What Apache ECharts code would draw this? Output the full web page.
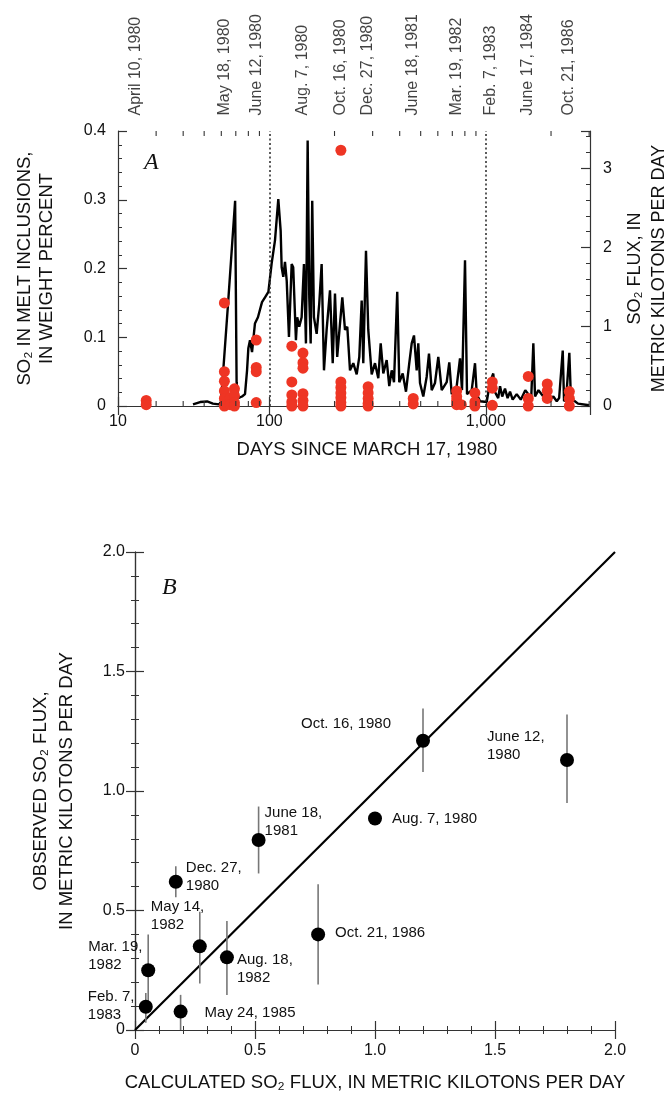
<!DOCTYPE html>
<html><head><meta charset="utf-8">
<script src="https://cdn.jsdelivr.net/npm/echarts@6/dist/echarts.min.js"></script>
<style>html,body{margin:0;padding:0;background:#fff}#c{width:667px;height:1105px}</style>
</head><body><div id="c"></div>
<script>
// ---------- Panel A data ----------
const dateLabels = ['April 10, 1980','May 18, 1980','June 12, 1980','Aug. 7, 1980','Oct. 16, 1980','Dec. 27, 1980','June 18, 1981','Mar. 19, 1982','Feb. 7, 1983','June 17, 1984','Oct. 21, 1986'];
const dateDays = [24, 62, 87, 143, 213, 285, 458, 732, 1057, 1553, 2409];
const xTickLabelsA = ['10', '100', '1,000'];
const minorDaysA = [30,40,50,60,70,80,90,200,300,400,500,600,700,800,900,2000,3000];
const guideDays = [100, 1000];

const fluxDays = [44.4,47.9,51.6,54.9,58.5,59.8,64.5,69.5,70.6,71.8,
74.8,77.2,78.9,80.0,81.4,83.2,85.8,88.6,92.5,95.5,
99.0,102.5,106.2,110.0,112.8,114.0,116.0,118.1,120.3,123.2,
126.8,128.9,132.7,134.5,137.4,141.0,144.5,147.6,150.3,152.9,
155.2,157.8,160.7,165.4,170.0,174.4,178.8,183.9,190.6,196.2,
201.0,205.8,212.0,217.3,223.6,229.1,235.8,244.2,253.2,260.3,
267.0,271.6,279.5,286.4,297.0,307.6,318.6,326.8,336.0,348.3,
358.0,367.4,376.5,389.7,398.2,413.0,427.7,442.9,454.5,465.7,
479.2,487.5,496.4,514.1,533.0,546.2,562.2,582.2,603.1,625.3,
659.4,677.8,695.5,733.4,759.7,776.0,801.2,818.4,860.5,891.1,
907.4,939.8,1009,1045,1082,1100,1122,1140,1163,1190,
1226,1260,1293,1330,1388,1450,1521,1571,1620,1657,
1687,1750,1843,1900,1979,2050,2125,2180,2265,2297,
2350,2430,2474,2550,2665,3000];
const fluxKt = [0.02,0.05,0.057,0.03,0.02,0.05,1.3,2.59,0.3,0.1,
0.12,0.15,0.45,0.73,0.83,0.68,1.04,1.12,1.31,1.37,
1.44,1.8,2.09,2.61,2.21,1.75,1.63,1.82,1.58,0.87,
1.79,1.75,0.83,1.12,1.0,1.12,1.79,0.79,3.35,1.37,
0.79,2.59,1.12,0.91,1.29,1.79,0.45,0.96,1.46,0.54,
1.42,0.62,1.04,1.37,0.96,1.0,0.45,0.54,0.40,0.62,
1.33,0.54,1.96,0.96,0.40,0.54,0.35,0.79,0.41,0.58,
0.25,0.45,0.3,1.44,0.3,0.41,0.18,0.54,0.79,0.89,
0.45,0.79,0.29,0.12,0.37,0.66,0.2,0.29,0.62,0.2,
0.3,0.55,0.15,0.25,0.6,0.2,1.84,0.15,0.2,0.54,
0.15,0.06,0.05,0.3,0.41,0.18,0.2,0.1,0.25,0.12,
0.22,0.1,0.18,0.08,0.15,0.08,0.2,0.15,0.1,0.79,
0.12,0.2,0.12,0.16,0.08,0.12,0.06,0.1,0.70,0.06,
0.1,0.67,0.05,0.07,0.03,0.01];

const inclusionDays = [27, 62, 66, 69, 87, 127, 143, 214, 286, 462, 733, 770, 890, 1071, 1570, 1921, 2430];
const inclusionWt = [
  [0.008,0.002],
  [0.15,0.05,0.036,0.022,0.011,0.0],
  [0.012,0.002],
  [0.025,0.015,0.005,0.0],
  [0.096,0.056,0.05,0.005],
  [0.087,0.035,0.016,0.006,0.0],
  [0.077,0.063,0.055,0.018,0.008,0.0],
  [0.372,0.035,0.027,0.019,0.012,0.005,0.0],
  [0.028,0.019,0.011,0.004,0.0],
  [0.011,0.003],
  [0.022,0.014,0.008,0.002],
  [0.002],
  [0.019,0.006,0.0],
  [0.035,0.026,0.001],
  [0.043,0.011,0.0],
  [0.032,0.022,0.011],
  [0.021,0.011,0.0]
];

// ---------- Panel B data ----------
const eventLabels = ['June 12,\n1980','Oct. 16, 1980','Aug. 7, 1980','June 18,\n1981','Dec. 27,\n1980','May 14,\n1982','Mar. 19,\n1982','Feb. 7,\n1983','Aug. 18,\n1982','Oct. 21, 1986','May 24, 1985'];
const calcFlux = [1.80, 1.20, 1.00, 0.515, 0.17, 0.27, 0.055, 0.045, 0.383, 0.763, 0.19];
const obsFlux  = [1.13, 1.21, 0.885, 0.795, 0.62, 0.35, 0.25, 0.097, 0.304, 0.40, 0.077];
const obsLow   = [0.95, 1.08, null, 0.655, 0.555, 0.195, 0.12, 0.03, 0.146, 0.19, 0.0];
const obsHigh  = [1.32, 1.345, null, 0.935, 0.685, 0.495, 0.40, 0.155, 0.456, 0.61, 0.147];
const oneToOne = [[0, 0], [2, 2]];
// label offsets (style) relative to each point: [dx, dy]
const labelOffsets = [[-80,-14],[-122,-17],[17,0],[6,-18],[10,-5],[-49,-30],[-60,-14],[-58,-1],[10,12],[17,-2],[24,1]];

const FONT = 'Liberation Sans, Arial, sans-serif';
const AX = '#333';
const TXT = '#111';

const inclusionData = [];
inclusionDays.forEach((d, i) => inclusionWt[i].forEach(v => inclusionData.push([d, v])));
const fluxData = fluxDays.map((d, i) => [d, fluxKt[i]]);

const chart = echarts.init(document.getElementById('c'), null, {renderer: 'canvas'});

const axLine = {show: true, lineStyle: {color: AX, width: 1.2}};
const tickIn = (len) => ({show: true, inside: true, length: len, lineStyle: {color: AX, width: 1.2}});
const minorIn = {show: true, splitNumber: 5, length: 4, lineStyle: {color: AX, width: 1}};
const lab = {color: TXT, fontFamily: FONT, fontSize: 16};
const nameStyle = (lh, fs) => ({color: TXT, fontFamily: FONT, fontSize: fs || 18.5, lineHeight: lh});

const logLabel = (v) => {
  if (v < 50) return xTickLabelsA[0];
  if (Math.abs(v - 100) < 1) return xTickLabelsA[1];
  if (Math.abs(v - 1000) < 5) return xTickLabelsA[2];
  return '';
};
const fix1 = (v) => (Math.abs(v) < 1e-9 ? '0' : v.toFixed(1));

const option = {
  animation: false,
  backgroundColor: '#fff',
  grid: [
    {left: 118, top: 131, width: 472, height: 275, containLabel: false, outerBoundsMode: 'none'},
    {left: 135, top: 552, width: 480, height: 478, containLabel: false, outerBoundsMode: 'none'}
  ],
  xAxis: [
    {type: 'log', logBase: 10, gridIndex: 0, min: 20, max: 3027, position: 'bottom',
     axisLine: axLine, axisTick: tickIn(9), splitLine: {show: false},
     axisLabel: Object.assign({}, lab, {formatter: logLabel, margin: 8, showMinLabel: true, showMaxLabel: false}),
     name: 'DAYS SINCE MARCH 17, 1980', nameLocation: 'middle', nameGap: 33,
     nameTextStyle: Object.assign(nameStyle(22), {padding: [0, 0, 0, 26]})},
    {type: 'log', logBase: 10, gridIndex: 0, min: 20, max: 3027, position: 'top',
     axisLine: axLine, axisTick: tickIn(9), splitLine: {show: false}, axisLabel: {show: false}},
    {type: 'value', gridIndex: 1, min: 0, max: 2, interval: 0.5, position: 'bottom',
     axisLine: axLine, axisTick: tickIn(9), minorTick: minorIn, splitLine: {show: false},
     axisLabel: Object.assign({}, lab, {formatter: fix1, margin: 13}),
     name: 'CALCULATED SO₂ FLUX, IN METRIC KILOTONS PER DAY', nameLocation: 'middle', nameGap: 42,
     nameTextStyle: nameStyle(22)},
    {type: 'value', gridIndex: 1, min: 0, max: 2, interval: 0.5, position: 'top',
     axisLine: axLine, axisTick: tickIn(9), minorTick: minorIn, splitLine: {show: false}, axisLabel: {show: false}}
  ],
  yAxis: [
    {type: 'value', gridIndex: 0, min: 0, max: 0.4, interval: 0.1, position: 'left',
     axisLine: axLine, axisTick: tickIn(9), minorTick: minorIn, splitLine: {show: false},
     axisLabel: Object.assign({}, lab, {formatter: fix1, margin: 12}),
     name: 'SO₂ IN MELT INCLUSIONS,\nIN WEIGHT PERCENT', nameLocation: 'middle', nameRotate: 90, nameGap: 60,
     nameTextStyle: nameStyle(22)},
    {type: 'value', gridIndex: 0, min: 0, max: 3.47, interval: 1, position: 'right',
     axisLine: axLine, axisTick: tickIn(9), minorTick: minorIn, splitLine: {show: false},
     axisLabel: Object.assign({}, lab, {formatter: (v) => (Math.abs(v - Math.round(v)) < 1e-6 ? String(Math.round(v)) : ''), margin: 13, showMaxLabel: false}),
     name: 'SO₂ FLUX, IN\nMETRIC KILOTONS PER DAY', nameLocation: 'middle', nameRotate: 90, nameGap: 24,
     nameTextStyle: nameStyle(24, 18)},
    {type: 'value', gridIndex: 1, min: 0, max: 2, interval: 0.5, position: 'left',
     axisLine: axLine, axisTick: tickIn(9), minorTick: minorIn, splitLine: {show: false},
     axisLabel: Object.assign({}, lab, {formatter: fix1, margin: 10}),
     name: 'OBSERVED SO₂ FLUX,\nIN METRIC KILOTONS PER DAY', nameLocation: 'middle', nameRotate: 90, nameGap: 55,
     nameTextStyle: nameStyle(26)},
    {type: 'value', gridIndex: 1, min: 0, max: 2, interval: 0.5, position: 'right',
     axisLine: axLine, axisTick: tickIn(9), minorTick: minorIn, splitLine: {show: false}, axisLabel: {show: false}}
  ],
  graphic: [
    {type: 'text', left: 144, top: 151, style: {text: 'A', font: 'italic 24px "Liberation Serif", serif', fill: '#111'}},
    {type: 'text', left: 162, top: 576, style: {text: 'B', font: 'italic 24px "Liberation Serif", serif', fill: '#111'}}
  ],
  series: [
    // SO2 flux line
    {type: 'line', xAxisIndex: 0, yAxisIndex: 1, data: fluxData, showSymbol: false, symbol: 'none',
     lineStyle: {color: '#000', width: 2.4, opacity: 1}, z: 3, clip: true,
     markLine: {silent: true, symbol: 'none', label: {show: false},
       lineStyle: {color: '#333', width: 1.6, type: [2, 2.5], opacity: 1},
       data: guideDays.map(d => ({xAxis: d}))}},
    // melt inclusions
    {type: 'scatter', xAxisIndex: 0, yAxisIndex: 0, data: inclusionData, symbolSize: 11,
     itemStyle: {color: '#ee3524', opacity: 1}, z: 5, clip: false},
    // log minor ticks (top and bottom)
    {type: 'custom', xAxisIndex: 0, yAxisIndex: 0, data: minorDaysA.map(d => [d, 0]), clip: false, silent: true, z: 6,
     renderItem: (params, api) => {
       const d = api.value(0);
       const b = api.coord([d, 0]);
       const t = api.coord([d, 0.4]);
       const st = {stroke: AX, lineWidth: 1.1};
       return {type: 'group', children: [
         {type: 'line', shape: {x1: b[0], y1: b[1], x2: b[0], y2: b[1] - 5}, style: st},
         {type: 'line', shape: {x1: t[0], y1: t[1], x2: t[0], y2: t[1] + 5}, style: st}
       ]};
     }},
    // date labels above panel A
    {type: 'scatter', xAxisIndex: 0, yAxisIndex: 0, data: dateDays.map(d => [d, 0.4]), symbolSize: 1,
     itemStyle: {color: 'rgba(0,0,0,0)'}, clip: false, silent: true,
     label: {show: true, position: 'top', distance: 15, rotate: 90, align: 'left', verticalAlign: 'middle',
       color: TXT, fontFamily: FONT, fontSize: 16,
       formatter: (p) => dateLabels[p.dataIndex]}},
    // 1:1 line
    {type: 'line', xAxisIndex: 2, yAxisIndex: 2, data: oneToOne, showSymbol: false, symbol: 'none',
     lineStyle: {color: '#000', width: 2.2, opacity: 1}, z: 2},
    // error bars
    {type: 'custom', xAxisIndex: 2, yAxisIndex: 2, clip: false, silent: true, z: 3,
     data: calcFlux.map((c, i) => [c, obsLow[i], obsHigh[i]]).filter(r => r[1] !== null),
     renderItem: (params, api) => {
       const x = api.value(0);
       const p1 = api.coord([x, api.value(1)]);
       const p2 = api.coord([x, api.value(2)]);
       return {type: 'line', shape: {x1: p1[0], y1: p1[1], x2: p2[0], y2: p2[1]}, style: {stroke: '#777', lineWidth: 1.6}};
     }},
    // observed vs calculated points
    {type: 'scatter', xAxisIndex: 2, yAxisIndex: 2, symbolSize: 14, z: 5, clip: false,
     itemStyle: {color: '#000', opacity: 1},
     data: calcFlux.map((c, i) => ({value: [c, obsFlux[i]],
       label: {show: true, position: 'inside', align: 'left', verticalAlign: 'middle', offset: labelOffsets[i],
         formatter: eventLabels[i], color: TXT, fontFamily: FONT, fontSize: 15, lineHeight: 18}}))}
  ]
};
chart.setOption(option);
</script></body></html>
